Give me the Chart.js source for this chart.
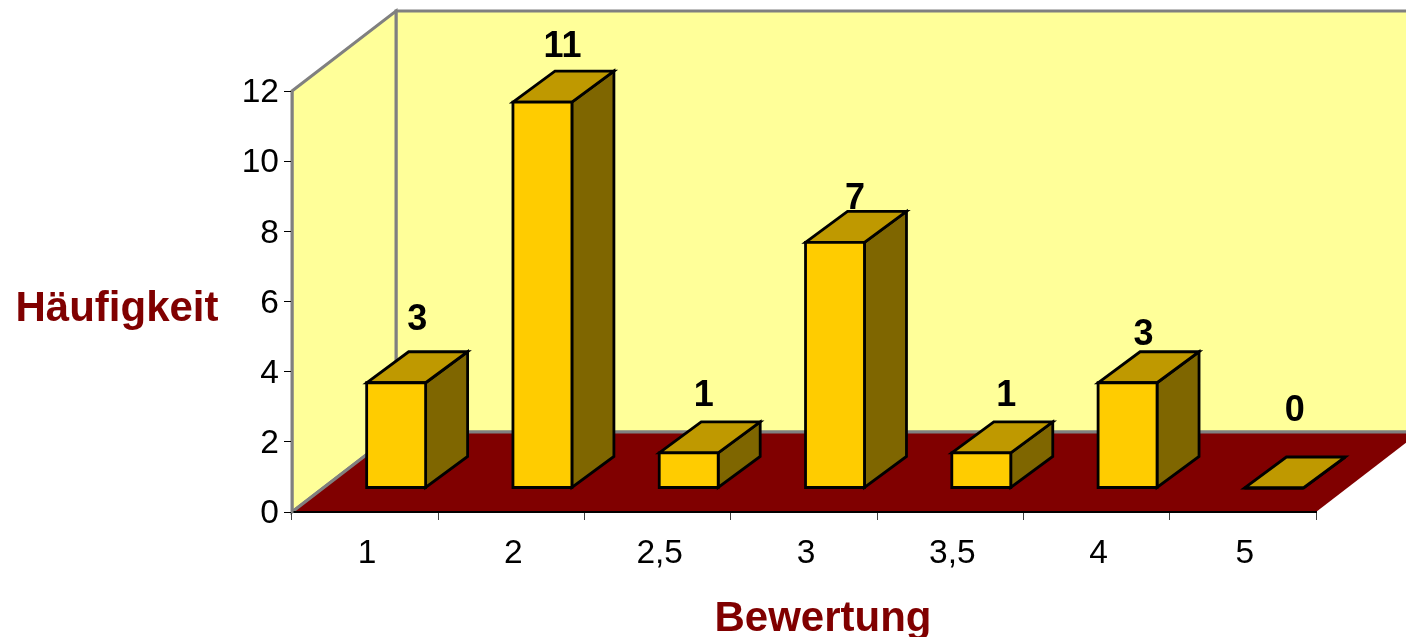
<!DOCTYPE html>
<html lang="de">
<head>
<meta charset="utf-8">
<title>Bewertung</title>
<script src="https://cdn.jsdelivr.net/npm/chart.js@4"></script>
<style>
  html, body { margin: 0; padding: 0; background: #fff; overflow: hidden; }
  canvas { display: block; }
</style>
</head>
<body>
<canvas id="myChart" width="1406" height="637"></canvas>
<script>
const categories = ['1', '2', '2,5', '3', '3,5', '4', '5'];
const haeufigkeit = [3, 11, 1, 7, 1, 3, 0];
const yTicks = [0, 2, 4, 6, 8, 10, 12];

// small shifts of the value labels, they don't sit at the same spot on every bar
const labelShiftX = [0, -1, -6, -1, 4, -5, 0];
const labelShiftY = [-32, -24, -26, -12, -26, -17, -46];

const FONT = '"Liberation Sans", Arial, sans-serif';
const DEPTH_X = 104, DEPTH_Y = 80;       // depth of the floor
const BAR_OFF_X = 31, BAR_OFF_Y = 24;    // bars stand a bit behind the front edge
const BAR_DX = 42, BAR_DY = 31;          // depth of one bar

function poly(ctx, pts, fill, stroke, lw) {
  ctx.beginPath();
  pts.forEach((p, i) => i ? ctx.lineTo(p[0], p[1]) : ctx.moveTo(p[0], p[1]));
  ctx.closePath();
  if (fill) { ctx.fillStyle = fill; ctx.fill(); }
  if (stroke) { ctx.strokeStyle = stroke; ctx.lineWidth = lw; ctx.stroke(); }
}

// walls and floor, behind the axes
const walls = {
  id: 'walls',
  beforeDraw(chart) {
    const ctx = chart.ctx;
    const { left, right, top, bottom } = chart.chartArea;
    const dx = DEPTH_X, dy = DEPTH_Y;
    ctx.save();
    ctx.lineJoin = 'miter';
    poly(ctx, [[left + dx, top - dy], [right + dx, top - dy], [right + dx, bottom - dy], [left + dx, bottom - dy]], '#FFFF99', '#808080', 3);
    poly(ctx, [[left, top], [left + dx, top - dy], [left + dx, bottom - dy], [left, bottom]], '#FFFF99', '#808080', 3);
    poly(ctx, [[left, bottom], [left + dx, bottom - dy], [right + dx, bottom - dy], [right, bottom]], '#800000');
    // gray edge between left wall and floor
    ctx.beginPath();
    ctx.moveTo(left, bottom);
    ctx.lineTo(left + dx, bottom - dy);
    ctx.lineTo(right + dx, bottom - dy);
    ctx.strokeStyle = '#808080';
    ctx.lineWidth = 3;
    ctx.stroke();
    ctx.restore();
  }
};

// draws the boxes and value labels from the bar elements
const boxes = {
  id: 'boxes',
  afterDatasetsDraw(chart) {
    const ctx = chart.ctx;
    const bars = chart.getDatasetMeta(0).data;
    ctx.save();
    ctx.lineJoin = 'miter';
    bars.forEach((bar) => {
      const x0 = bar.x - bar.width / 2 + BAR_OFF_X;
      const x1 = bar.x + bar.width / 2 + BAR_OFF_X;
      const yT = bar.y - BAR_OFF_Y;
      const yB = bar.base - BAR_OFF_Y;
      poly(ctx, [[x1, yT], [x1 + BAR_DX, yT - BAR_DY], [x1 + BAR_DX, yB - BAR_DY], [x1, yB]], '#7F6600', '#000', 2.8);
      poly(ctx, [[x0, yT], [x1, yT], [x1 + BAR_DX, yT - BAR_DY], [x0 + BAR_DX, yT - BAR_DY]], '#BF9900', '#000', 2.8);
      poly(ctx, [[x0, yT], [x1, yT], [x1, yB], [x0, yB]], '#FFCC00', '#000', 2.8);
    });
    ctx.fillStyle = '#000';
    ctx.font = 'bold 36px ' + FONT;
    ctx.textAlign = 'center';
    ctx.textBaseline = 'middle';
    bars.forEach((bar, i) => {
      const lx = bar.x + BAR_OFF_X + BAR_DX / 2 + labelShiftX[i];
      const ly = bar.y - BAR_OFF_Y - BAR_DY + labelShiftY[i];
      ctx.fillText(haeufigkeit[i], lx, ly);
    });
    // axis titles
    ctx.fillStyle = '#800000';
    ctx.font = 'bold 42px ' + FONT;
    ctx.fillText('Häufigkeit', 117, 309);
    ctx.fillText('Bewertung', 823, 619);
    ctx.restore();
  }
};

new Chart(document.getElementById('myChart'), {
  type: 'bar',
  data: {
    labels: categories,
    datasets: [{
      label: 'Häufigkeit',
      data: haeufigkeit,
      backgroundColor: 'rgba(0,0,0,0)',
      barPercentage: 0.403,
      categoryPercentage: 1
    }]
  },
  plugins: [walls, boxes],
  options: {
    responsive: false,
    animation: false,
    events: [],
    layout: { padding: { top: 91, right: 90, left: 0, bottom: 0 } },
    plugins: { legend: { display: false }, title: { display: false }, tooltip: { enabled: false } },
    scales: {
      x: {
        afterFit(scale) { scale.height = 125; },
        border: { color: '#000', width: 2 },
        grid: { drawOnChartArea: false, color: '#404040', lineWidth: 1, tickLength: 8 },
        ticks: { color: '#000', font: { family: FONT, size: 33.5 }, padding: 14, maxRotation: 0, labelOffset: 2 }
      },
      y: {
        min: yTicks[0],
        max: yTicks[yTicks.length - 1],
        afterFit(scale) { scale.width = 292; },
        afterBuildTicks(scale) { scale.ticks = yTicks.map(v => ({ value: v })); },
        border: { color: '#808080', width: 2.5 },
        grid: { drawOnChartArea: false, color: '#000', lineWidth: 1, tickLength: 8 },
        ticks: { color: '#000', font: { family: FONT, size: 33.5 }, padding: 5, labelOffset: 2 }
      }
    }
  }
});
</script>
</body>
</html>
